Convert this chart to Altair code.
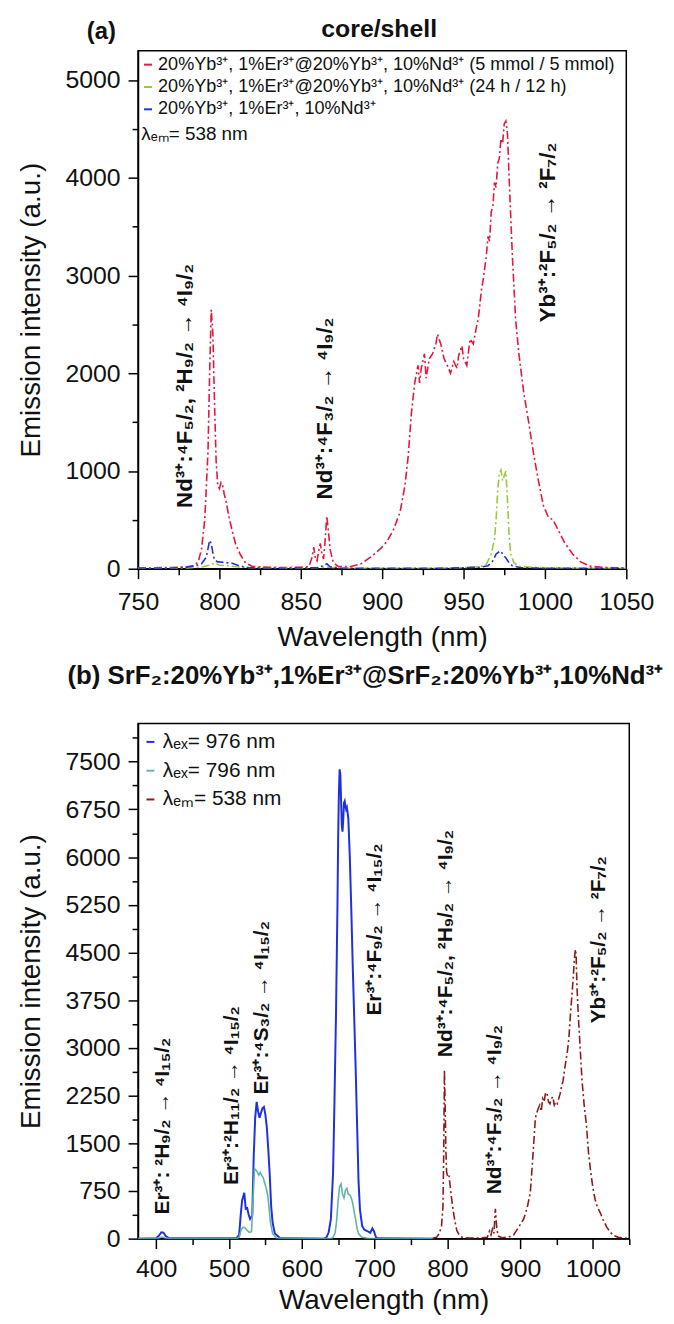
import altair as alt
import pandas as pd

FONT = "Liberation Sans"

# ---------------- panel (a) data ----------------
TOP_SERIES = [
    "20%Yb³⁺, 1%Er³⁺@20%Yb³⁺, 10%Nd³⁺ (5 mmol / 5 mmol)",
    "20%Yb³⁺, 1%Er³⁺@20%Yb³⁺, 10%Nd³⁺ (24 h / 12 h)",
    "20%Yb³⁺, 1%Er³⁺, 10%Nd³⁺",
]
TOP_COLORS = ["#e5173c", "#99c93a", "#2233d0"]

TOP_RED_WL = [750, 760, 770, 775, 780, 784, 787, 789, 791, 793,
              794, 795, 796, 797, 798, 799, 800, 801, 802, 803,
              804, 806, 808, 810, 813, 816, 820, 830, 840, 850,
              855, 857, 858, 859, 860, 861, 862, 863, 864, 865,
              866, 867, 868, 870, 873, 880, 887, 893, 899, 903,
              907, 911, 914, 916, 918, 920, 922, 923, 924, 926,
              927, 929, 931, 933, 934, 936, 938, 940, 942, 944,
              946, 947, 949, 950, 952, 954, 956, 958, 959, 961,
              962, 964, 965, 966, 967, 968, 969, 970, 971, 972,
              973, 974, 975, 976, 977, 978, 979, 980, 982, 984,
              987, 990, 993, 996, 999, 1002, 1005, 1008, 1012, 1017,
              1022, 1028, 1035, 1042, 1050]
TOP_RED_VAL = [10, 10, 12, 15, 20, 30, 70, 200, 500, 1200,
               2000, 2650, 2400, 1700, 1100, 850, 820, 880, 850, 760,
               700, 520, 380, 250, 140, 60, 25, 15, 12, 15,
               20, 120, 220, 100, 80, 180, 260, 150, 100, 300,
               540, 380, 200, 60, 25, 20, 50, 120, 205, 280,
               400, 580, 850, 1150, 1600, 1900, 2080, 1900, 2050, 2200,
               1950, 2150, 2200, 2300, 2400, 2300, 2150, 2080, 2000, 2120,
               2050, 2180, 2280, 2150, 2080, 2350, 2300, 2480, 2550, 2850,
               2950, 3200, 3400, 3350, 3650, 3700, 3950, 3900, 4150, 4200,
               4400, 4350, 4550, 4580, 4450, 4000, 3600, 3200, 2550, 2200,
               1800, 1500, 1180, 900, 650, 530, 500, 400, 270, 150,
               70, 25, 15, 10, 10]

TOP_GREEN_WL = [750, 780, 790, 795, 797, 800, 805, 810, 820, 850,
                866, 880, 900, 930, 950, 960, 964, 967, 969, 970,
                971, 972, 973, 974, 975, 976, 977, 978, 979, 981,
                985, 1000, 1020, 1050]
TOP_GREEN_VAL = [0, 5, 20, 40, 60, 35, 30, 20, 10, 5,
                 15, 5, 5, 5, 10, 20, 45, 150, 300, 500,
                 800, 980, 1010, 900, 950, 1000, 700, 340, 150, 60,
                 20, 10, 5, 5]

TOP_BLUE_WL = [750, 770, 780, 785, 789, 792, 794, 795, 796, 797,
               799, 803, 808, 812, 818, 840, 860, 864, 866, 868,
               875, 900, 940, 960, 965, 968, 970, 972, 973, 974,
               976, 978, 980, 985, 1000, 1050]
TOP_BLUE_VAL = [0, 5, 15, 30, 50, 120, 290, 260, 160, 90,
                70, 65, 55, 30, 10, 5, 10, 30, 50, 20,
                5, 5, 5, 15, 30, 80, 150, 175, 180, 150,
                110, 60, 30, 10, 5, 5]

TOP_XTICKS = list(range(750, 1051, 25))
TOP_YTICKS = list(range(0, 5001, 500))

TOP_ANN_TEXT = ["Nd³⁺:⁴F₅/₂, ²H₉/₂ → ⁴I₉/₂", "Nd³⁺:⁴F₃/₂ → ⁴I₉/₂", "Yb³⁺:²F₅/₂ → ²F₇/₂"]
TOP_ANN_WL = [779, 865, 1002]
TOP_ANN_VAL = [1870, 1640, 3440]
TOP_NOTE = ["λₑₘ= 538 nm"]
TOP_NOTE_WL = [752]
TOP_NOTE_VAL = [4450]
TOP_TITLE = "core/shell"
TOP_TAG = "(a)"

# ---------------- panel (b) data ----------------
BOT_SERIES = ["λₑₓ= 976 nm", "λₑₓ= 796 nm", "λₑₘ= 538 nm"]
BOT_COLORS = ["#1f30e0", "#62b5a5", "#8b1c1c"]

BOT_BLUE_WL = [375, 400, 404, 407, 410, 413, 418, 510, 514, 516,
               518, 521, 523, 525, 527, 529, 532, 534, 536, 538,
               540, 542, 544, 546, 548, 550, 552, 554, 556, 558,
               560, 563, 570, 630, 634, 637, 640, 643, 645, 647,
               649, 650, 651, 652, 653, 654, 655, 656, 657, 658,
               659, 660, 661, 662, 663, 664, 665, 666, 668, 670,
               672, 674, 676, 678, 680, 683, 686, 690, 694, 697,
               699, 702, 705, 780]
BOT_BLUE_VAL = [0, 5, 50, 100, 95, 40, 5, 5, 60, 360,
                600, 720, 470, 480, 380, 310, 360, 1300, 1900, 2150,
                2000, 1900, 1980, 2050, 2070, 1950, 1750, 1400, 1000, 500,
                250, 80, 10, 0, 20, 100, 310, 1035, 2200, 3500,
                5200, 6300, 7000, 7380, 7300, 6900, 6500, 6400, 6600, 6850,
                6880, 6800, 6750, 6780, 6700, 6600, 6300, 6000, 5200, 4300,
                3500, 2700, 1800, 900, 450, 200, 140, 120, 90, 160,
                120, 20, 5, 0]

BOT_TEAL_WL = [375, 400, 404, 408, 412, 420, 510, 514, 517, 520,
               522, 525, 528, 531, 533, 535, 537, 539, 541, 543,
               545, 547, 549, 551, 553, 555, 557, 560, 565, 640,
               643, 646, 648, 650, 652, 654, 656, 658, 660, 662,
               664, 666, 668, 670, 672, 674, 676, 678, 682, 690,
               700, 780]
BOT_TEAL_VAL = [0, 0, 10, 25, 10, 0, 0, 20, 150, 180,
                170, 130, 100, 110, 600, 1100, 1080, 1050, 1000, 1040,
                990, 960, 880, 800, 700, 500, 250, 80, 10, 0,
                20, 100, 300, 600, 820, 860, 700, 640, 760, 790,
                700, 690, 640, 560, 420, 300, 160, 80, 25, 5,
                0, 0]

BOT_RED_WL = [780, 785, 789, 792, 794, 795, 796, 797, 798, 799,
              800, 802, 804, 806, 808, 810, 813, 817, 822, 830,
              845, 855, 858, 860, 862, 864, 866, 868, 870, 875,
              885, 891, 898, 905, 910, 914, 917, 919, 921, 923,
              925, 927, 929, 931, 933, 935, 937, 939, 941, 943,
              945, 947, 949, 951, 953, 955, 957, 959, 961, 963,
              965, 967, 969, 971, 973, 974, 975, 976, 977, 978,
              980, 982, 985, 988, 991, 994, 997, 1000, 1003, 1006,
              1010, 1014, 1019, 1024, 1028, 1035, 1042, 1050]
BOT_RED_VAL = [5, 20, 80, 200, 500, 1300, 2650, 2100, 1400, 1050,
               1000, 1020, 820, 620, 450, 300, 130, 40, 15, 10,
               10, 20, 120, 60, 150, 80, 470, 150, 40, 15,
               30, 55, 180, 310, 500, 725, 1200, 1550, 1900, 1980,
               2050, 2100, 2000, 2200, 2150, 2300, 2280, 2150, 2120, 2200,
               2230, 2100, 2150, 2120, 2200, 2280, 2400, 2480, 2650, 2800,
               2950, 3150, 3500, 3800, 4100, 4300, 4450, 4550, 4450, 4000,
               3500, 3100, 2500, 2100, 1800, 1350, 1050, 800, 620, 500,
               410, 300, 180, 100, 50, 20, 10, 5]

BOT_XTICKS = list(range(400, 1051, 50))
BOT_YTICKS = list(range(0, 7876, 375))

BOT_ANN_TEXT = ["Er³⁺: ²H₉/₂ → ⁴I₁₅/₂", "Er³⁺:²H₁₁/₂ → ⁴I₁₅/₂", "Er³⁺:⁴S₃/₂ → ⁴I₁₅/₂",
                "Er³⁺:⁴F₉/₂ → ⁴I₁₅/₂", "Nd³⁺:⁴F₅/₂, ²H₉/₂ → ⁴I₉/₂", "Nd³⁺:⁴F₃/₂ → ⁴I₉/₂",
                "Yb³⁺:²F₅/₂ → ²F₇/₂"]
BOT_ANN_WL = [409, 504, 545, 701, 798, 865, 1008]
BOT_ANN_VAL = [1770, 2250, 3630, 4860, 4640, 2030, 4700]

BOT_TITLE = "(b) SrF₂:20%Yb³⁺,1%Er³⁺@SrF₂:20%Yb³⁺,10%Nd³⁺"


def series_df(name, wl, val):
    assert len(wl) == len(val), name
    return pd.DataFrame({"series": name, "wl": wl, "val": val})


def axis(values, major, title, label_pad, title_pad):
    return alt.Axis(
        values=values,
        labelExpr=f"datum.value % {major} === 0 ? datum.label : ''",
        format="d",
        title=title,
        grid=False,
        labelOverlap=False,
        labelFlush=False,
        tickSize={"condition": {"test": f"datum.value % {major} === 0", "value": 10}, "value": 6},
        labelPadding=label_pad,
        titlePadding=title_pad,
    )


def text_layer(text, x, y, size, bold=True, align="center"):
    return alt.Chart(pd.DataFrame({"t": [text]})).mark_text(
        font=FONT, fontSize=size, fontWeight="bold" if bold else "normal",
        align=align, baseline="middle", color="#111",
    ).encode(x=alt.value(x), y=alt.value(y), text="t:N")


def panel(series_names, colors, series_data, dashes, widths, xdom, ydom, xt, xmaj, yt, ymaj,
          xlab_pad, xtitle_pad, ann_text, ann_wl, ann_val, ann_size, legend_kw):
    x = alt.X("wl:Q", scale=alt.Scale(domain=xdom, nice=False, zero=False),
              axis=axis(xt, xmaj, "Wavelength (nm)", xlab_pad, xtitle_pad))
    y = alt.Y("val:Q", scale=alt.Scale(domain=ydom, nice=False, zero=False),
              axis=axis(yt, ymaj, "Emission intensity (a.u.)", 8, 20))
    color = alt.Color("series:N", scale=alt.Scale(domain=series_names, range=colors),
                      legend=alt.Legend(title=None, orient="none", symbolType="stroke",
                                        symbolSize=64, symbolStrokeWidth=2, labelFont=FONT,
                                        labelLimit=0, padding=0,
                                        labelColor="#111", **legend_kw))
    layers = []
    for name, (wl, val), dash, sw in zip(series_names, series_data, dashes, widths):
        mk = dict(strokeWidth=sw, clip=True)
        if dash:
            mk["strokeDash"] = dash
        layers.append(alt.Chart(series_df(name, wl, val)).mark_line(**mk)
                      .encode(x=x, y=y, color=color))
    ann = pd.DataFrame({"t": ann_text, "wl": ann_wl, "val": ann_val})
    layers.append(alt.Chart(ann).mark_text(angle=270, font=FONT, fontWeight="bold",
                                           fontSize=ann_size, align="center",
                                           baseline="middle", color="#111")
                  .encode(x=x, y=y, text="t:N"))
    return layers, x, y


top_layers, tx, ty = panel(
    TOP_SERIES, TOP_COLORS,
    [(TOP_RED_WL, TOP_RED_VAL), (TOP_GREEN_WL, TOP_GREEN_VAL), (TOP_BLUE_WL, TOP_BLUE_VAL)],
    [[8, 3, 2, 3], [8, 3, 2, 3], [8, 3, 2, 3]], [1.6, 1.6, 1.6],
    [750, 1050], [0, 5300], TOP_XTICKS, 50, TOP_YTICKS, 1000, 11, 9,
    TOP_ANN_TEXT, TOP_ANN_WL, TOP_ANN_VAL, 22.5,
    dict(legendX=1, legendY=5, labelFontSize=18.2, rowPadding=3.5, labelOffset=1),
)
note = pd.DataFrame({"t": TOP_NOTE, "wl": TOP_NOTE_WL, "val": TOP_NOTE_VAL})
top_note = alt.Chart(note).mark_text(font=FONT, fontSize=19, align="left",
                                     baseline="middle", color="#111").encode(
    x=tx, y=ty, text="t:N")
top = alt.layer(
    *top_layers, top_note,
    text_layer(TOP_TITLE, 243, -22, 25),
    text_layer(TOP_TAG, -37, -19, 24),
).properties(width=492, height=522)

bot_layers, bx, by = panel(
    BOT_SERIES, BOT_COLORS,
    [(BOT_BLUE_WL, BOT_BLUE_VAL), (BOT_TEAL_WL, BOT_TEAL_VAL), (BOT_RED_WL, BOT_RED_VAL)],
    [None, None, [8, 3, 2, 3]], [2.0, 1.6, 1.6],
    [375, 1050], [0, 8100], BOT_XTICKS, 100, BOT_YTICKS, 750, 8, 5,
    BOT_ANN_TEXT, BOT_ANN_WL, BOT_ANN_VAL, 21,
    dict(legendX=2, legendY=8, labelFontSize=21, rowPadding=7, labelOffset=2),
)
bottom = alt.layer(
    *bot_layers,
    text_layer(BOT_TITLE, 229, -48, 26),
).properties(width=495, height=519)

chart = (
    alt.vconcat(top, bottom, spacing=10)
    .resolve_scale(color="independent")
    .properties(padding={"left": 8, "top": 3, "right": 2, "bottom": 0})
    .configure_view(stroke="black", strokeWidth=1.5)
    .configure_axis(
        labelFont=FONT, titleFont=FONT, labelFontSize=25, titleFontSize=28,
        titleFontWeight="normal", labelColor="#111", titleColor="#111",
        domainColor="black", domainWidth=1.5, tickColor="black", tickWidth=1.5,
    )
)

chart.save("out.html", embed_options={"renderer": "svg", "actions": False})
